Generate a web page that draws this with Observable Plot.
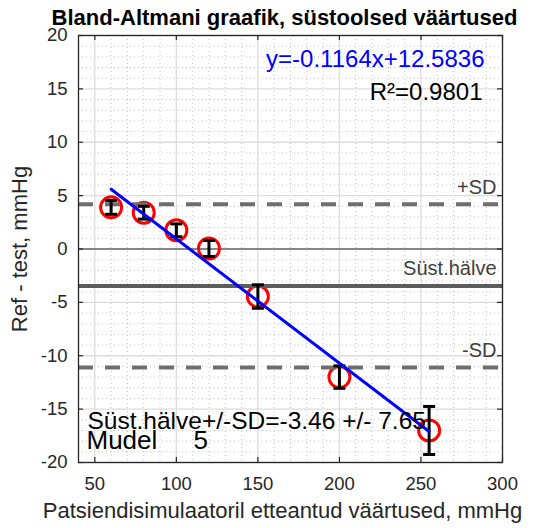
<!DOCTYPE html>
<html><head><meta charset="utf-8">
<script src="https://cdn.jsdelivr.net/npm/d3@7"></script>
<script src="https://cdn.jsdelivr.net/npm/@observablehq/plot@0.6"></script>
<style>body{margin:0;background:#fff} svg{display:block}</style>
</head><body><div id="chart"></div>
<script>
// ---- data ----
const setpoints   = [60, 80, 100, 120, 150, 200, 255];          // mmHg
const differences = [3.9, 3.4, 1.75, 0.05, -4.45, -12.0, -17.0]; // Ref - test
const errHalf     = [0.65, 0.6, 0.6, 0.75, 1.1, 1.05, 2.25];
const fitX = [60, 255];
const fitY = [5.6, -17.1];
const meanDiff = -3.46;
const sdDiff = 7.65;
const fitText = "y=-0.1164x+12.5836";
const r2Text = "R\u00b2=0.9801";
const modelLabel = "Mudel";
const modelNo = "5";
const xTicks = [50, 100, 150, 200, 250, 300];
const yTicks = [-20, -15, -10, -5, 0, 5, 10, 15, 20];
const titleText = "Bland-Altmani graafik, süstoolsed väärtused";
const xLabel = "Patsiendisimulaatoril etteantud väärtused, mmHg";
const yLabel = "Ref - test, mmHg";

// ---- build tables ----
const points = setpoints.map((x, i) => ({x, y: differences[i], e: errHalf[i]}));
const fit = fitX.map((x, i) => ({x, y: fitY[i]}));
const minorX = d3.range(40, 301, 10).filter(v => v % 50 !== 0);
const minorY = d3.range(-20, 21, 1).filter(v => v % 5 !== 0);
const refLines = [
  {y: meanDiff + sdDiff, label: "+SD", dash: true},
  {y: meanDiff, label: "Süst.hälve", dash: false},
  {y: meanDiff - sdDiff, label: "-SD", dash: true}
];

const W = 536, H = 528, mL = 78, mR = 34, mT = 35, mB = 66;
const innerW = W - mL - mR, innerH = H - mT - mB;
const FONT = "'Liberation Sans', Arial, Helvetica, sans-serif";
const AX = "#262626";

const capSymbol = {
  draw(ctx, size) {
    const w = Math.sqrt(size / Math.PI);
    ctx.moveTo(-w, 0); ctx.lineTo(w, 0);
  }
};

const chart = Plot.plot({
  width: W, height: H,
  marginLeft: mL, marginRight: mR, marginTop: mT, marginBottom: mB,
  style: {fontFamily: FONT, fontSize: "18.5px", background: "white", color: AX, overflow: "visible"},
  x: {domain: [40, 300], ticks: xTicks, tickSize: 0, tickPadding: 14, label: null, tickFormat: d => String(d)},
  y: {domain: [-20, 20], ticks: yTicks, tickSize: 0, tickPadding: 11, label: null, tickFormat: d => String(d)},
  marks: [
    // minor grid
    Plot.ruleX(minorX, {x: d => d, stroke: "#c4c4c4", strokeDasharray: "1,3", strokeWidth: 1}),
    Plot.ruleY(minorY, {y: d => d, stroke: "#c4c4c4", strokeDasharray: "1,3", strokeWidth: 1}),
    // major grid
    Plot.ruleX(xTicks, {x: d => d, stroke: "#dcdcdc", strokeWidth: 1.3}),
    Plot.ruleY(yTicks, {y: d => d, stroke: "#dcdcdc", strokeWidth: 1.3}),
    // zero line
    Plot.ruleY([0], {stroke: "#858585", strokeWidth: 2}),
    // circles
    Plot.dot(points, {x: "x", y: "y", r: 10.5, stroke: "#ff0000", strokeWidth: 3, fill: "none"}),
    // reference lines
    Plot.ruleY(refLines.filter(d => !d.dash), {y: "y", stroke: "#5c5c5c", strokeWidth: 4}),
    Plot.ruleY(refLines.filter(d => d.dash), {y: "y", stroke: "#6e6e6e", strokeWidth: 4, strokeDasharray: "15,12"}),
    Plot.text(refLines, {y: "y", text: "label", frameAnchor: "right", textAnchor: "end", lineAnchor: "middle", dx: -6, dy: -17, fontSize: 20, fill: "#404040"}),
    // error bars
    Plot.ruleX(points, {x: "x", y1: d => d.y - d.e, y2: d => d.y + d.e, stroke: "#000", strokeWidth: 3}),
    Plot.dot(points, {x: "x", y: d => d.y + d.e, symbol: capSymbol, r: 6, stroke: "#000", strokeWidth: 3, fill: "none"}),
    Plot.dot(points, {x: "x", y: d => d.y - d.e, symbol: capSymbol, r: 6, stroke: "#000", strokeWidth: 3, fill: "none"}),
    // regression line
    Plot.line(fit, {x: "x", y: "y", stroke: "#0000ff", strokeWidth: 3}),
    // annotations
    Plot.text([fitText], {text: d => d, frameAnchor: "top-right", textAnchor: "end", lineAnchor: "middle", dx: -18, dy: 24, fontSize: 24, fill: "#0000ff"}),
    Plot.text([r2Text], {text: d => d, frameAnchor: "top-right", textAnchor: "end", lineAnchor: "middle", dx: -20, dy: 57, fontSize: 24, fill: "#000"}),
    Plot.text([`Süst.hälve+/-SD=${meanDiff} +/- ${sdDiff}`], {text: d => d, frameAnchor: "bottom-left", textAnchor: "start", lineAnchor: "middle", dx: 9, dy: -41.5, fontSize: 24.5, fill: "#000"}),
    Plot.text([modelLabel], {text: d => d, frameAnchor: "bottom-left", textAnchor: "start", lineAnchor: "middle", dx: 8, dy: -22, fontSize: 26, fill: "#000"}),
    Plot.text([modelNo], {text: d => d, frameAnchor: "bottom-left", textAnchor: "start", lineAnchor: "middle", dx: 115, dy: -22, fontSize: 26, fill: "#000"}),
    // inward ticks
    Plot.tickX(xTicks, {x: d => d, insetTop: innerH - 5, stroke: AX, strokeWidth: 1.2}),
    Plot.tickX(xTicks, {x: d => d, insetBottom: innerH - 5, stroke: AX, strokeWidth: 1.2}),
    Plot.tickY(yTicks, {y: d => d, insetRight: innerW - 5, stroke: AX, strokeWidth: 1.2}),
    Plot.tickY(yTicks, {y: d => d, insetLeft: innerW - 5, stroke: AX, strokeWidth: 1.2}),
    Plot.frame({stroke: AX, strokeWidth: 1.3}),
    // titles
    Plot.text([titleText], {text: d => d, frameAnchor: "top", textAnchor: "middle", lineAnchor: "middle", dx: -6, dy: -18, fontSize: 22, fontWeight: "bold", fill: "#000"}),
    Plot.text([xLabel], {text: d => d, frameAnchor: "bottom", textAnchor: "middle", lineAnchor: "middle", dx: -8, dy: 48, fontSize: 22, fill: AX}),
    Plot.text([yLabel], {text: d => d, frameAnchor: "left", textAnchor: "middle", lineAnchor: "middle", rotate: -90, dx: -59, fontSize: 22, fill: AX})
  ]
});
document.getElementById("chart").appendChild(chart);
</script>
</body></html>
